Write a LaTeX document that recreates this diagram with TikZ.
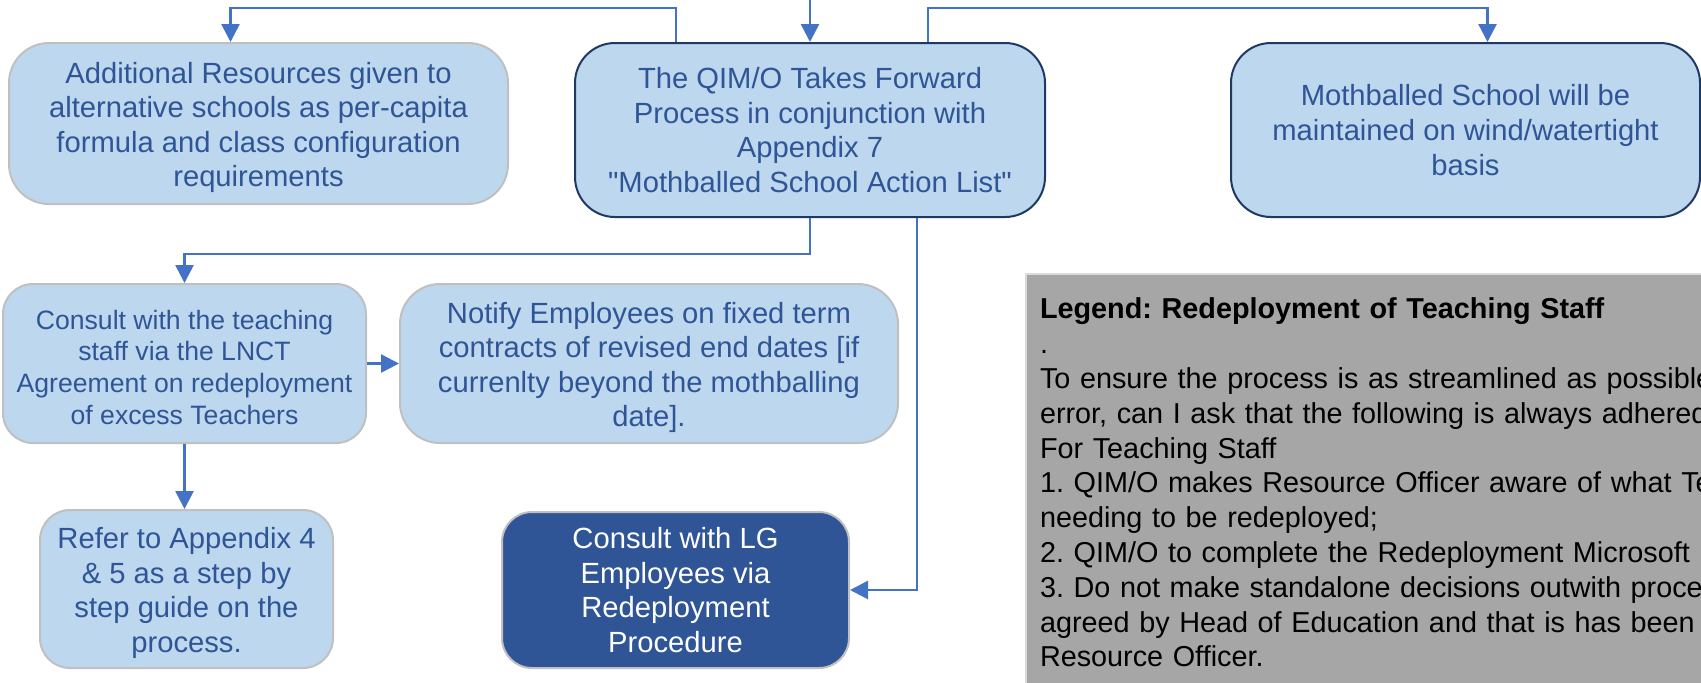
\documentclass[tikz,border=0pt]{standalone}
\usepackage{fontspec}
\setmainfont{Liberation Sans}
\usetikzlibrary{arrows.meta}
\frenchspacing

\definecolor{boxfill}{HTML}{BDD7EE}
\definecolor{navy}{HTML}{203864}
\definecolor{textblue}{HTML}{2F5597}
\definecolor{flowblue}{HTML}{4472C4}
\definecolor{edgegray}{HTML}{C0C0C0}
\definecolor{lgblue}{HTML}{2F5597}
\definecolor{keyfill}{HTML}{A6A6A6}
\definecolor{keyedge}{HTML}{DADADA}

% a taller first line pushes the text a little down in its box
\newcommand{\topgap}{\rule{0pt}{14.5pt}}

\begin{document}
\begin{tikzpicture}[
    x=0.5pt, y=-0.5pt,
    every node/.style={align=center, inner sep=0pt, font=\fontsize{14.6}{17.3}\selectfont},
    stage/.style={rectangle, rounded corners=20pt, draw=edgegray, line width=1pt, fill=boxfill, text=textblue},
    mainstage/.style={stage, draw=navy},
    darkstage/.style={stage, fill=lgblue, text=white},
    key/.style={rectangle, draw=keyedge, line width=1pt, fill=keyfill, align=left, text width=380pt,
        inner xsep=7pt, inner ysep=12pt, font=\fontsize{14.4}{17.4}\selectfont},
    flow/.style={draw=flowblue, line width=1.3pt, -{Triangle[length=9pt, width=9pt]}},
    ]

    \clip (0,0) rectangle (1701,682);

    \node (res) [stage, minimum width=249.5pt, minimum height=80.5pt] at (258.5,123.5)
        {\topgap Additional Resources given to\\alternative schools as per-capita\\formula and class configuration\\requirements};
    \node (qim) [mainstage, minimum width=235pt, minimum height=87pt] at (810,130)
        {The QIM/O Takes Forward\\Process in conjunction with\\Appendix 7\\\textquotedbl Mothballed School Action List\textquotedbl};
    \node (moth) [mainstage, minimum width=234.5pt, minimum height=87pt] at (1465.5,130)
        {Mothballed School will be\\maintained on wind/watertight\\basis};
    \node (lnct) [stage, minimum width=181.5pt, minimum height=79.5pt, rounded corners=15pt,
        font=\fontsize{13.3}{15.9}\selectfont] at (184.5,363.5)
        {\rule{0pt}{13.5pt}Consult with the teaching\\staff via the LNCT\\Agreement on redeployment\\of excess Teachers};
    \node (fixed) [stage, minimum width=249pt, minimum height=79.5pt] at (649,363.5)
        {\topgap Notify Employees on fixed term\\contracts of revised end dates [if\\currenlty beyond the mothballing\\date].};
    \node (appx) [stage, minimum width=146.5pt, minimum height=79pt, rounded corners=15pt] at (186.5,589)
        {\topgap Refer to Appendix 4\\\& 5 as a step by\\step guide on the\\process.};
    \node (lg) [darkstage, minimum width=173.5pt, minimum height=78pt, rounded corners=15pt] at (675.5,590)
        {Consult with LG\\Employees via\\Redeployment\\Procedure};
    \node (key) [key, anchor=north west] at (1025,273)
        {\textbf{Legend: Redeployment of Teaching Staff}\\
        .\\
        To ensure the process is as streamlined as possible\\
        error, can I ask that the following is always adhered\\
        For Teaching Staff\\
        1. QIM/O makes Resource Officer aware of what Te\\
        needing to be redeployed;\\
        2. QIM/O to complete the Redeployment Microsoft F\\
        3. Do not make standalone decisions outwith proce\\
        agreed by Head of Education and that is has been f\\
        Resource Officer.};

    \coordinate (feed) at (810,0);

    \draw [flow] (feed) -- (qim);
    \draw [flow] ([xshift=-67pt]qim.north) -- ++(0,-34) -| ([xshift=-14pt]res.north);
    \draw [flow] ([xshift=59pt]qim.north) -- ++(0,-34) -| ([xshift=11pt]moth.north);
    \draw [flow] (qim.south) -- ++(0,36) -| (lnct.north);
    \draw [flow] ([xshift=53.5pt]qim.south) |- (lg.east);
    \draw [flow] (lnct) -- (fixed);
    \draw [flow] (lnct.south) -- (lnct.south |- appx.north);
\end{tikzpicture}
\end{document}
